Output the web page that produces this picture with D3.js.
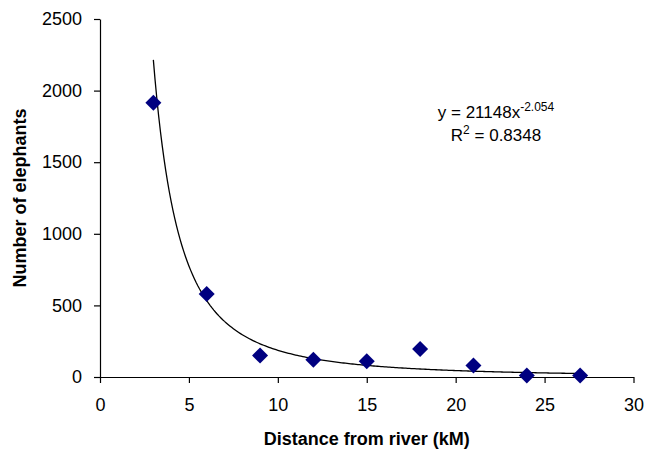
<!DOCTYPE html>
<html>
<head>
<meta charset="utf-8">
<script src="https://cdn.jsdelivr.net/npm/d3@7"></script>
<style>
  body { margin: 0; background: #fff; }
  text { font-family: "Liberation Sans", Arial, sans-serif; fill: #000; }
</style>
</head>
<body>
<div id="chart"></div>
<script>
// values
let distances = [3, 6, 9, 12, 15, 18, 21, 24, 27]
let elephants = [1915, 580, 150, 120, 110, 195, 80, 10, 10]
let xTicks = [0, 5, 10, 15, 20, 25, 30]
let yTicks = [0, 500, 1000, 1500, 2000, 2500]
// power trendline shown on the chart
let trendA = 21148
let trendB = -2.054
let trendR2 = 0.8348

let width = 646
let height = 451
let margin = {top: 19, right: 12, bottom: 74, left: 100}

let svg = d3.select('#chart').append('svg')
            .attr('width', width)
            .attr('height', height)

let x = d3.scaleLinear().domain([0, 30]).range([margin.left, 633.5])
let y = d3.scaleLinear().domain([0, 2500]).range([377, margin.top])

let data = distances.map(function(d, i) { return {km: d, n: elephants[i]} })

// axes
svg.append('g')
    .attr('transform', `translate(0,${y(0)})`)
    .call(d3.axisBottom(x).tickValues(xTicks).tickFormat(d3.format('d'))
            .tickSize(6).tickPadding(15).tickSizeOuter(0))
svg.append('g')
    .attr('transform', `translate(${x(0)},0)`)
    .call(d3.axisLeft(y).tickValues(yTicks).tickFormat(d3.format('d'))
            .tickSize(6).tickPadding(12).tickSizeOuter(0))

svg.selectAll('.domain, .tick line').attr('stroke', '#000').attr('stroke-width', 1.2)
svg.selectAll('.tick text')
    .attr('font-size', '18px')
    .attr('font-family', '"Liberation Sans", Arial, sans-serif')

// trendline y = a * x^b
let curveX = d3.range(distances[0], distances[distances.length - 1] + 0.01, 0.1)
let line = d3.line()
    .x(function(d) { return x(d) })
    .y(function(d) { return y(trendA * Math.pow(d, trendB)) })
svg.append('path')
    .datum(curveX)
    .attr('fill', 'none')
    .attr('stroke', '#000')
    .attr('stroke-width', 1.3)
    .attr('d', line)

// diamonds
svg.append('g')
    .selectAll('path')
    .data(data)
    .enter().append('path')
    .attr('d', d3.symbol().type(d3.symbolSquare).size(128))
    .attr('transform', function(d) { return `translate(${x(d.km)},${y(d.n)})rotate(45)` })
    .attr('fill', '#000080')

// equation label
let eq = svg.append('text')
    .attr('x', 496)
    .attr('y', 118)
    .attr('text-anchor', 'middle')
    .attr('font-size', '17px')
eq.append('tspan').text('y = ' + trendA + 'x')
eq.append('tspan').attr('font-size', '12px').attr('dy', -7).text(trendB.toFixed(3))

let r2 = svg.append('text')
    .attr('x', 496)
    .attr('y', 141)
    .attr('text-anchor', 'middle')
    .attr('font-size', '17px')
r2.append('tspan').text('R')
r2.append('tspan').attr('font-size', '12px').attr('dy', -7).text('2')
r2.append('tspan').attr('dy', 7).text(' = ' + trendR2)

// axis titles
svg.append('text')
    .attr('x', (x(0) + x(30)) / 2)
    .attr('y', 445)
    .attr('text-anchor', 'middle')
    .attr('font-size', '18px')
    .attr('font-weight', 'bold')
    .text('Distance from river (kM)')

svg.append('text')
    .attr('transform', `translate(26,${(y(0) + y(2500)) / 2})rotate(-90)`)
    .attr('text-anchor', 'middle')
    .attr('font-size', '18px')
    .attr('font-weight', 'bold')
    .text('Number of elephants')
</script>
</body>
</html>
